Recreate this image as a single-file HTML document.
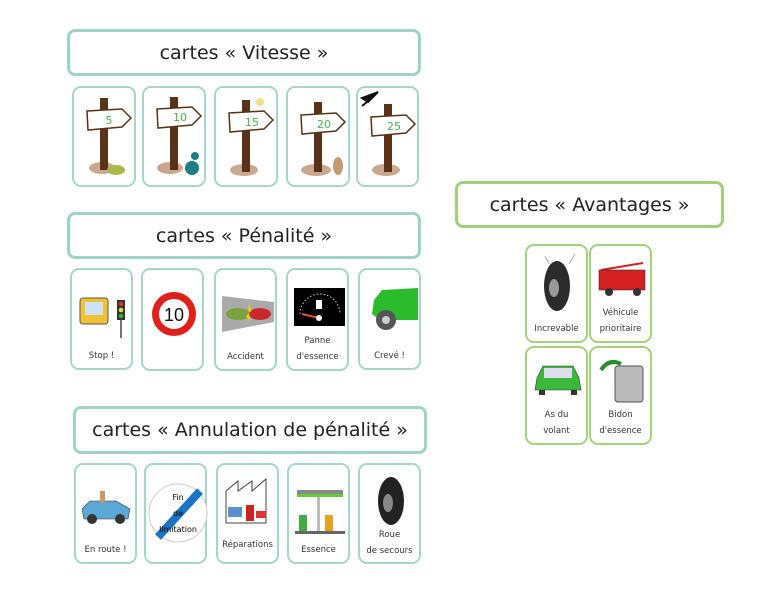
<!DOCTYPE html>
<html><head><meta charset="utf-8"><style>
*{margin:0;padding:0;box-sizing:border-box}
body{width:768px;height:612px;background:#fff;position:relative;overflow:hidden;font-family:"DejaVu Sans","Liberation Sans",sans-serif;color:#222}
.h{position:absolute;border:3px solid #9fd3c6;border-radius:8px;background:#fff;display:flex;align-items:center;justify-content:center;font-size:19px;letter-spacing:0}
.g{border-color:#9fd07a}
.c{position:absolute;border:2px solid #a6d6ca;border-radius:9px;background:#fff}
.cg{border-color:#a3d17c}
.c svg{position:absolute;left:0;top:0}
.l{position:absolute;left:0;right:0;text-align:center;font-size:8.5px;color:#333;line-height:16px}
</style></head><body>

<div class="h" style="left:67px;top:29px;width:354px;height:47px">cartes « Vitesse »</div>
<div class="h" style="left:67px;top:212px;width:354px;height:47px">cartes « Pénalité »</div>
<div class="h" style="left:73px;top:406px;width:354px;height:48px">cartes « Annulation de pénalité »</div>
<div class="h g" style="left:455px;top:181px;width:269px;height:47px">cartes « Avantages »</div>

<!-- Vitesse cards -->
<div class="c" style="left:72px;top:86px;width:64px;height:101px"><svg width="64" height="101"><ellipse cx="28" cy="80" rx="13" ry="6" fill="#c9a88f"/><rect x="26" y="10" width="8" height="72" fill="#5a3218"/><polygon points="13,23 48,21 57,30 48,39 14,42" fill="#fff" stroke="#5a3218" stroke-width="1.5"/><text x="35" y="36" font-size="11" fill="#4caf50" text-anchor="middle">5</text><ellipse cx="42" cy="82" rx="9" ry="5" fill="#a9b84a"/></svg></div>
<div class="c" style="left:142px;top:86px;width:64px;height:101px"><svg width="64" height="101"><ellipse cx="26" cy="80" rx="13" ry="6" fill="#c9a88f"/><rect x="26" y="9" width="8" height="73" fill="#5a3218"/><polygon points="13,21 48,19 57,28 48,37 14,40" fill="#fff" stroke="#5a3218" stroke-width="1.5"/><text x="36" y="33" font-size="11" fill="#4caf50" text-anchor="middle">10</text><ellipse cx="48" cy="80" rx="7" ry="7" fill="#1f7d85"/><circle cx="51" cy="68" r="4" fill="#1f7d85"/></svg></div>
<div class="c" style="left:214px;top:86px;width:64px;height:101px"><svg width="64" height="101"><ellipse cx="28" cy="82" rx="14" ry="6" fill="#c9a88f"/><rect x="26" y="12" width="8" height="72" fill="#5a3218"/><polygon points="13,25 48,23 57,32 48,41 14,44" fill="#fff" stroke="#5a3218" stroke-width="1.5"/><text x="36" y="38" font-size="11" fill="#4caf50" text-anchor="middle">15</text><circle cx="44" cy="14" r="4" fill="#f0e090"/></svg></div>
<div class="c" style="left:286px;top:86px;width:64px;height:101px"><svg width="64" height="101"><ellipse cx="28" cy="82" rx="15" ry="6" fill="#c9a88f"/><rect x="26" y="14" width="8" height="70" fill="#5a3218"/><polygon points="13,27 48,25 57,34 48,43 14,46" fill="#fff" stroke="#5a3218" stroke-width="1.5"/><text x="36" y="40" font-size="11" fill="#4caf50" text-anchor="middle">20</text><ellipse cx="50" cy="78" rx="5" ry="9" fill="#c29b6c"/></svg></div>
<div class="c" style="left:356px;top:86px;width:63px;height:101px"><svg width="63" height="101"><ellipse cx="28" cy="82" rx="14" ry="6" fill="#c9a88f"/><rect x="26" y="16" width="8" height="68" fill="#5a3218"/><polygon points="13,29 48,27 57,36 48,45 14,48" fill="#fff" stroke="#5a3218" stroke-width="1.5"/><text x="36" y="42" font-size="11" fill="#4caf50" text-anchor="middle">25</text><path d="M4,10 L20,4 L10,14 Z M4,18 L14,10" stroke="#111" stroke-width="2" fill="#111"/></svg></div>

<!-- Pénalité cards -->
<div class="c" style="left:70px;top:268px;width:63px;height:102px"><svg width="63" height="102"><rect x="8" y="28" width="28" height="26" rx="3" fill="#f1c232" stroke="#555"/><rect x="13" y="32" width="18" height="13" fill="#cfe2f3"/><rect x="45" y="30" width="8" height="20" fill="#333"/><circle cx="49" cy="34" r="2.3" fill="#d33"/><circle cx="49" cy="40" r="2.3" fill="#dd3"/><circle cx="49" cy="46" r="2.3" fill="#3a3"/><rect x="48" y="50" width="2" height="18" fill="#777"/></svg><div class="l" style="top:78px">Stop !</div></div>
<div class="c" style="left:141px;top:268px;width:63px;height:103px"><svg width="63" height="103"><circle cx="31" cy="44" r="22" fill="#e0201a"/><circle cx="31" cy="44" r="15" fill="#fff"/><text x="31" y="51" font-size="18" text-anchor="middle" fill="#111" font-family="Liberation Sans">10</text></svg></div>
<div class="c" style="left:214px;top:268px;width:63px;height:103px"><svg width="63" height="103"><polygon points="6,26 58,32 58,52 6,62" fill="#aaa"/><ellipse cx="22" cy="44" rx="12" ry="6" fill="#7ba23f"/><ellipse cx="44" cy="44" rx="11" ry="6" fill="#c9282d"/><polygon points="32,34 36,40 30,46 34,52" fill="#f5d000"/></svg><div class="l" style="top:79px">Accident</div></div>
<div class="c" style="left:286px;top:268px;width:63px;height:103px"><svg width="63" height="103"><rect x="6" y="18" width="51" height="38" fill="#000"/><path d="M12,44 A20,20 0 0 1 52,44" stroke="#ccc" stroke-dasharray="1.5 2" fill="none"/><line x1="31" y1="48" x2="14" y2="44" stroke="#e05040" stroke-width="2"/><circle cx="31" cy="48" r="3" fill="#fff"/><rect x="28" y="30" width="6" height="9" fill="#fff"/></svg><div class="l" style="top:63px">Panne</div><div class="l" style="top:79px">d'essence</div></div>
<div class="c" style="left:358px;top:268px;width:63px;height:102px"><svg width="63" height="102"><path d="M14,30 L22,20 L58,18 L58,50 L20,50 L12,44 Z" fill="#2cbb2c"/><circle cx="26" cy="50" r="10" fill="#555"/><circle cx="26" cy="50" r="4" fill="#ccc"/></svg><div class="l" style="top:78px">Crevé !</div></div>

<!-- Annulation cards -->
<div class="c" style="left:74px;top:463px;width:63px;height:101px"><svg width="63" height="101"><path d="M6,44 L14,36 L40,36 L54,44 L52,54 L8,54 Z" fill="#5ba7d6" stroke="#333" stroke-width=".6"/><circle cx="16" cy="54" r="5" fill="#333"/><circle cx="44" cy="54" r="5" fill="#333"/><rect x="24" y="26" width="5" height="12" fill="#c49a6c"/></svg><div class="l" style="top:77px">En route !</div></div>
<div class="c" style="left:144px;top:463px;width:63px;height:101px"><svg width="63" height="101"><circle cx="32" cy="48" r="29" fill="#fff" stroke="#ccc"/><line x1="54" y1="26" x2="12" y2="72" stroke="#1a74c4" stroke-width="8"/><text x="32" y="35" font-size="8" text-anchor="middle">Fin</text><text x="32" y="51" font-size="8" text-anchor="middle">de</text><text x="32" y="67" font-size="8" text-anchor="middle">limitation</text></svg></div>
<div class="c" style="left:216px;top:463px;width:63px;height:101px"><svg width="63" height="101"><path d="M8,58 L8,26 L20,16 L20,26 L34,16 L34,26 L48,14 L48,58 Z" fill="#fff" stroke="#444"/><rect x="10" y="42" width="14" height="10" fill="#5a8fd0"/><rect x="28" y="40" width="8" height="16" fill="#c22"/><rect x="38" y="46" width="10" height="7" fill="#d33"/></svg><div class="l" style="top:72px">Réparations</div></div>
<div class="c" style="left:287px;top:463px;width:63px;height:101px"><svg width="63" height="101"><rect x="8" y="25" width="46" height="4" fill="#888"/><rect x="8" y="29" width="46" height="3" fill="#6c3"/><rect x="10" y="50" width="8" height="18" fill="#4a4"/><rect x="36" y="50" width="8" height="18" fill="#e8a020"/><rect x="28" y="32" width="3" height="36" fill="#bbb"/><rect x="6" y="66" width="50" height="3" fill="#666"/></svg><div class="l" style="top:77px">Essence</div></div>
<div class="c" style="left:358px;top:463px;width:63px;height:101px"><svg width="63" height="101"><ellipse cx="31" cy="36" rx="13" ry="24" fill="#222"/><ellipse cx="28" cy="38" rx="5" ry="9" fill="#888"/></svg><div class="l" style="top:62px">Roue</div><div class="l" style="top:78px">de secours</div></div>

<!-- Avantages cards -->
<div class="c cg" style="left:525px;top:244px;width:63px;height:99px"><svg width="63" height="99"><ellipse cx="30" cy="40" rx="13" ry="25" fill="#2b2b2b"/><ellipse cx="27" cy="42" rx="5" ry="9" fill="#999"/><line x1="18" y1="10" x2="22" y2="18" stroke="#aaa"/><line x1="48" y1="8" x2="42" y2="18" stroke="#aaa"/></svg><div class="l" style="top:75px">Increvable</div></div>
<div class="c cg" style="left:589px;top:244px;width:63px;height:99px"><svg width="63" height="99"><line x1="10" y1="24" x2="52" y2="17" stroke="#c22" stroke-width="2"/><rect x="8" y="24" width="46" height="20" fill="#d42020" stroke="#333" stroke-width=".6"/><circle cx="18" cy="46" r="4" fill="#333"/><circle cx="46" cy="46" r="4" fill="#333"/></svg><div class="l" style="top:59px">Véhicule</div><div class="l" style="top:75px">prioritaire</div></div>
<div class="c cg" style="left:525px;top:346px;width:63px;height:99px"><svg width="63" height="99"><path d="M10,30 L16,18 L46,18 L52,30 L54,42 L8,42 Z" fill="#3cb83c" stroke="#333" stroke-width=".6"/><rect x="17" y="20" width="28" height="10" fill="#dde"/><rect x="12" y="42" width="6" height="5" fill="#333"/><rect x="44" y="42" width="6" height="5" fill="#333"/></svg><div class="l" style="top:59px">As du</div><div class="l" style="top:75px">volant</div></div>
<div class="c cg" style="left:589px;top:346px;width:63px;height:99px"><svg width="63" height="99"><rect x="24" y="18" width="28" height="36" rx="3" fill="#bbb" stroke="#555"/><path d="M10,22 Q18,10 30,16" stroke="#2d8c2d" stroke-width="4" fill="none"/></svg><div class="l" style="top:59px">Bidon</div><div class="l" style="top:75px">d'essence</div></div>

</body></html>
